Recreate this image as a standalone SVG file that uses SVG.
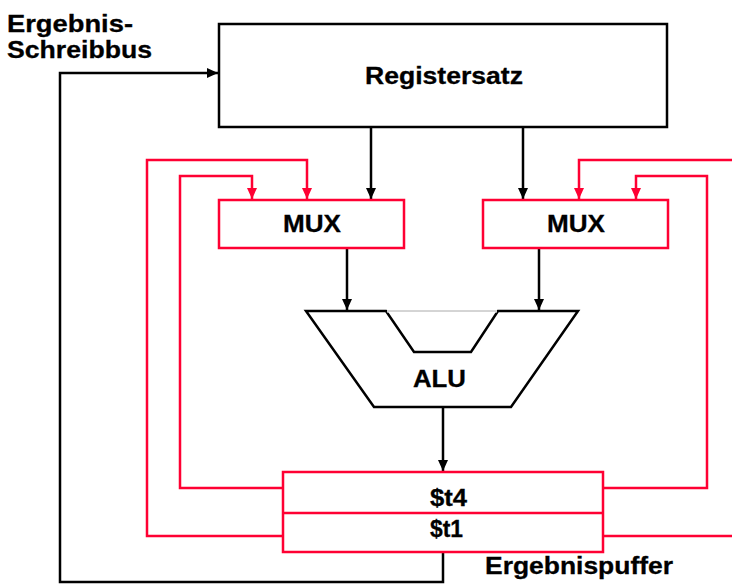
<svg xmlns="http://www.w3.org/2000/svg" width="732" height="585" viewBox="0 0 732 585">
<style>
.t{font-family:"Liberation Sans",Arial,sans-serif;font-weight:bold;font-size:24px;fill:#000;stroke:#000;stroke-width:0.3}
.bk{fill:none;stroke:#000;stroke-width:2.5}
.rd{fill:none;stroke:#ff0033;stroke-width:2.5}
.rbox{fill:#fff;stroke:#ff0033;stroke-width:2.5}
.bbox{fill:#fff;stroke:#000;stroke-width:2.5}
</style>
<defs>
<marker id="ab" markerUnits="userSpaceOnUse" markerWidth="12" markerHeight="10" refX="11" refY="5" orient="auto">
<path d="M0,0 L11,5 L0,10 Z" fill="#000"/>
</marker>
<marker id="ar" markerUnits="userSpaceOnUse" markerWidth="12" markerHeight="10" refX="11" refY="5" orient="auto">
<path d="M0,0 L11,5 L0,10 Z" fill="#ff0033"/>
</marker>
</defs>
<rect width="732" height="585" fill="#fff"/>
<g id="connectors">
<path class="bk" d="M443,552 V582 H60 V73 H218" marker-end="url(#ab)"/>
<path class="bk" d="M371,127 V199" marker-end="url(#ab)"/>
<path class="bk" d="M523,127 V199" marker-end="url(#ab)"/>
<path class="bk" d="M347,248 V310" marker-end="url(#ab)"/>
<path class="bk" d="M539,248 V310" marker-end="url(#ab)"/>
<path class="bk" d="M443,407 V471" marker-end="url(#ab)"/>
<path class="rd" d="M283,536 H147 V160 H307 V199" marker-end="url(#ar)"/>
<path class="rd" d="M283,488 H180 V176 H252 V199" marker-end="url(#ar)"/>
<path class="rd" d="M603,488 H707 V176 H636 V199" marker-end="url(#ar)"/>
<path class="rd" d="M603,536 H733"/>
<path class="rd" d="M733,160 H579 V199" marker-end="url(#ar)"/>
</g>
<g id="registersatz">
<rect class="bbox" x="219" y="24" width="448" height="103"/>
<text class="t" x="365" y="84" textLength="158" lengthAdjust="spacingAndGlyphs">Registersatz</text>
</g>
<g id="mux-left">
<rect class="rbox" x="219" y="200" width="185" height="48"/>
<text class="t" x="283" y="232" textLength="58" lengthAdjust="spacingAndGlyphs">MUX</text>
</g>
<g id="mux-right">
<rect class="rbox" x="483" y="200" width="185" height="48"/>
<text class="t" x="547" y="232" textLength="58" lengthAdjust="spacingAndGlyphs">MUX</text>
</g>
<g id="alu">
<path d="M306,311 L386,311 L414,352 L471,352 L498,311 L578,311 L511,407 L374,407 Z" fill="#fff" stroke="#000" stroke-width="2.5" stroke-linejoin="miter"/>
<line x1="387" y1="311" x2="497" y2="311" stroke="#fff" stroke-width="3"/>
<line x1="387" y1="311" x2="497" y2="311" stroke="#aaa" stroke-width="1"/>
<text class="t" x="413" y="387" textLength="53" lengthAdjust="spacingAndGlyphs">ALU</text>
</g>
<g id="ergebnispuffer">
<rect class="rbox" x="283" y="472" width="320" height="80"/>
<line class="rd" x1="283" y1="513" x2="603" y2="513"/>
<text class="t" x="430" y="506" textLength="37" lengthAdjust="spacingAndGlyphs">$t4</text>
<text class="t" x="430" y="537" textLength="33" lengthAdjust="spacingAndGlyphs">$t1</text>
<text class="t" x="485" y="574" textLength="188" lengthAdjust="spacingAndGlyphs">Ergebnispuffer</text>
</g>
<g id="bus-label">
<text class="t" x="7" y="32" textLength="126" lengthAdjust="spacingAndGlyphs">Ergebnis-</text>
<text class="t" x="7" y="58" textLength="145" lengthAdjust="spacingAndGlyphs">Schreibbus</text>
</g>
</svg>
